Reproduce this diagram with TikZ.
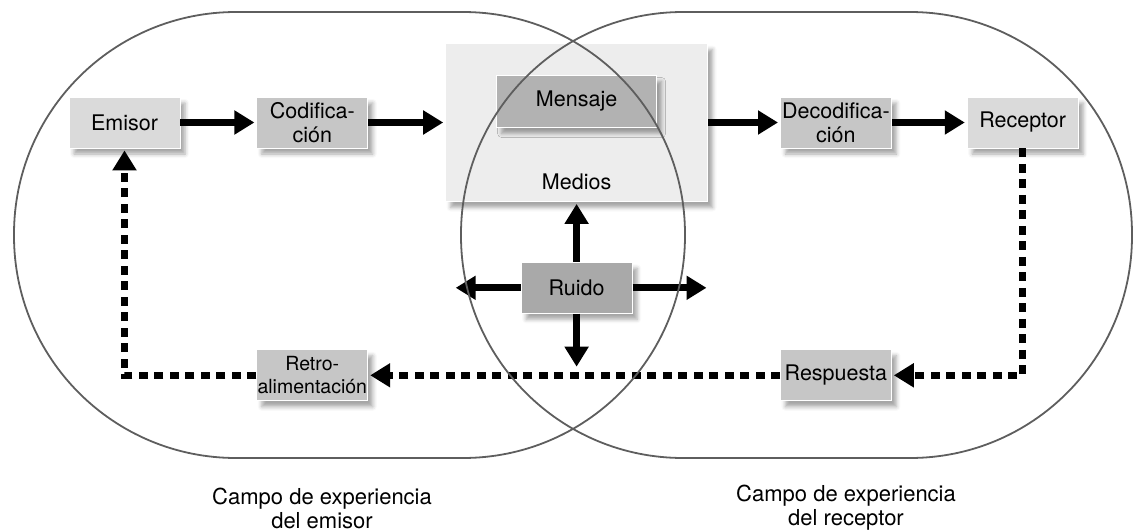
\documentclass[tikz,border=0pt]{standalone}
\usepackage{fontspec}
\setmainfont{TeX Gyre Heros}
\usepackage{tikz}
\usetikzlibrary{arrows.meta,positioning,shadows.blur}
\definecolor{fieldgrey}{HTML}{5E5E5E}
\definecolor{boxlight}{HTML}{DADADA}
\definecolor{boxmid}{HTML}{C6C6C6}
\definecolor{boxdark}{HTML}{B2B2B2}
\definecolor{noisegrey}{HTML}{A9A9A9}
\definecolor{mediabg}{HTML}{EDEDED}

\begin{document}
\begin{tikzpicture}[x=1pt,y=-1pt,
  box/.style={draw=white,line width=0.8pt,minimum width=111pt,minimum height=51pt,
              inner sep=0pt,align=center,font=\fontsize{21.5}{24}\selectfont,
              blur shadow={shadow xshift=5pt,shadow yshift=-6pt,shadow blur radius=4pt,shadow opacity=35}},
  light/.style={box,fill=boxlight},
  mid/.style={box,fill=boxmid},
  media/.style={box,fill=mediabg,minimum width=262pt,minimum height=158pt},
  msg/.style={box,fill=boxdark,minimum width=160pt,minimum height=52pt},
  noise/.style={box,fill=noisegrey},
  caption/.style={align=center,font=\fontsize{22}{24}\selectfont},
  arrow/.style={-{Triangle[length=20pt,width=23pt]},line width=7pt,shorten >=2pt},
  fback/.style={arrow,dash pattern=on 9pt off 6.5pt},
  field/.style={draw=fieldgrey,line width=1.8pt,rounded corners=222pt}]
\useasboundingbox (0,0) rectangle (1138,532);

\node[light] (emisor) at (124.5,122.5) {Emisor};
\node[mid,right=76pt of emisor] (codif) {Codifica-\\ción};
\node[media,right=77pt of codif] (medios) {};
\node[msg,below=32pt of medios.north] (mensaje) {Mensaje};
\node[caption,font=\fontsize{21.5}{24}\selectfont,above=9pt of medios.south] (mediostxt) {Medios};
\node[mid,right=72pt of medios] (decod) {Decodifica-\\ción};
\node[light,right=75pt of decod] (receptor) {Receptor};
\draw[arrow] (emisor) -- (codif);
\draw[arrow] (codif) -- (medios);
\draw[arrow] (medios.east |- decod) -- (decod);
\draw[arrow] (decod) -- (receptor);

\node[noise,below=60pt of medios] (ruido) {Ruido};
\coordinate[left=65pt of ruido] (noisew);
\coordinate[right=74pt of ruido] (noisee);
\coordinate[below=53pt of ruido] (noises);
\draw[arrow] (ruido) -- (medios);
\draw[arrow,shorten >=0pt] (ruido) -- (noisew);
\draw[arrow,shorten >=0pt] (ruido) -- (noisee);
\draw[arrow,shorten >=0pt] (ruido) -- (noises);

\node[mid,below=201pt of decod] (respuesta) {Respuesta};
\node[mid,font=\fontsize{19.5}{23}\selectfont,below=201pt of codif] (retro) {Retro-\\alimentación};
\draw[fback] (receptor.south) |- (respuesta.east);
\draw[fback] (respuesta) -- (retro);
\draw[fback] (retro.west) -| (emisor.south);

\draw[field] (14,12) rectangle (685,458);
\draw[field] (461,12) rectangle (1132,458);

\node[caption] (campoemisor) at (322,508) {Campo de experiencia\\del emisor};
\node[caption] (camporeceptor) at (846,508) {Campo de experiencia\\del receptor};
\end{tikzpicture}
\end{document}
